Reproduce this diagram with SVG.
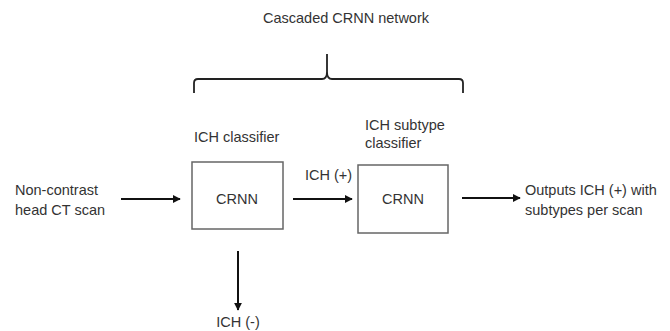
<svg xmlns="http://www.w3.org/2000/svg" width="670" height="331" viewBox="0 0 670 331">
<style>
text{font-family:"Liberation Sans",Arial,sans-serif;font-size:14.5px;fill:#333}
.box{fill:#fff;stroke:#666;stroke-width:1.5}
.arr{stroke:#111;stroke-width:2;fill:none;marker-end:url(#ah)}
.brace{stroke:#222;stroke-width:1.8;fill:none}
</style>
<defs>
<marker id="ah" viewBox="0 0 10 10" refX="9" refY="5" markerWidth="4" markerHeight="4" orient="auto" markerUnits="strokeWidth">
<path d="M0,0 L10,5 L0,10 z" fill="#111"/>
</marker>
</defs>
<rect width="670" height="331" fill="#fff"/>
<g id="title">
<text x="346" y="23" text-anchor="middle">Cascaded CRNN network</text>
<path class="brace" d="M194,93 L194,83 Q194,79 198,79 L322,79 Q327,79 327,72 L327,54 M327,54 L327,72 Q327,79 332,79 L459,79 Q463,79 463,83 L463,93"/>
</g>
<g id="input">
<text x="15" y="195">Non-contrast</text>
<text x="15" y="215">head CT scan</text>
</g>
<g id="ich-classifier">
<text x="194" y="142">ICH classifier</text>
<rect class="box" x="192" y="162" width="91" height="67"/>
<text x="237" y="204" text-anchor="middle">CRNN</text>
</g>
<g id="ich-subtype-classifier">
<text x="365" y="130">ICH subtype</text>
<text x="365" y="148">classifier</text>
<rect class="box" x="358" y="165" width="90" height="68"/>
<text x="403" y="204" text-anchor="middle">CRNN</text>
</g>
<g id="output">
<text x="525" y="195">Outputs ICH (+) with</text>
<text x="525" y="215">subtypes per scan</text>
</g>
<g id="ich-negative">
<text x="238" y="327" text-anchor="middle">ICH (-)</text>
</g>
<g id="connectors">
<line class="arr" x1="121" y1="199" x2="180" y2="199"/>
<line class="arr" x1="293" y1="199" x2="352" y2="199"/>
<text x="305" y="180">ICH (+)</text>
<line class="arr" x1="462" y1="198" x2="520" y2="198"/>
<line class="arr" x1="238" y1="251" x2="238" y2="310"/>
</g>
</svg>
